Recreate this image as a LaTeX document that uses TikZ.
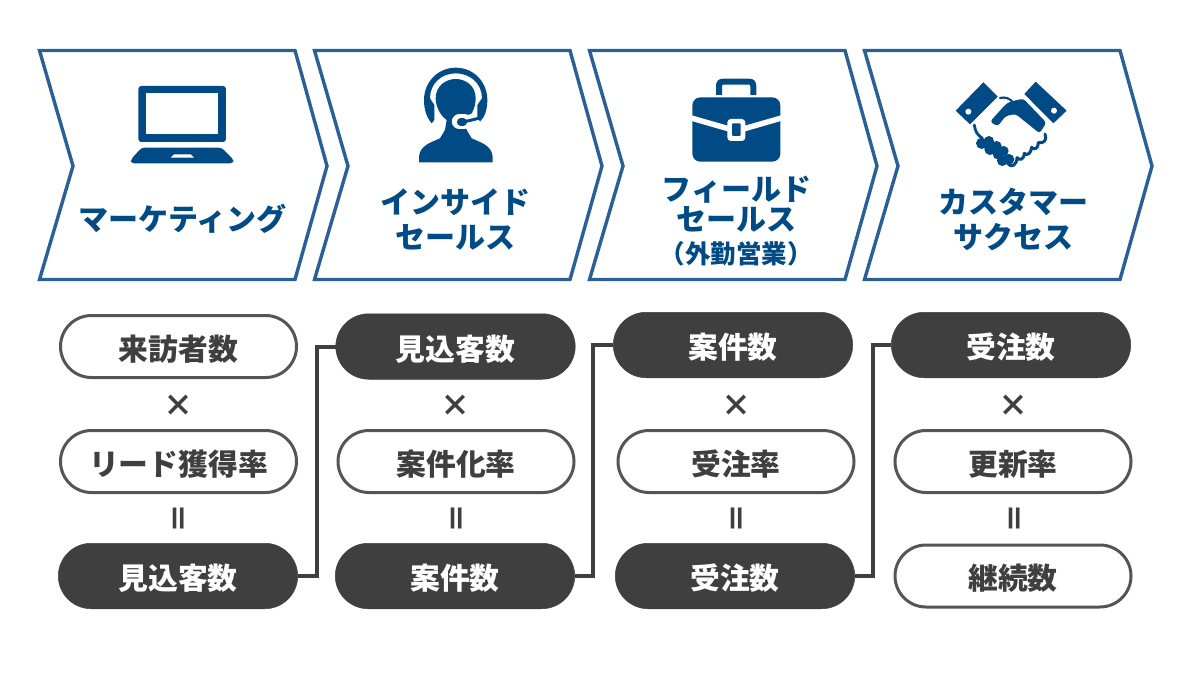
\documentclass[tikz,border=0pt]{standalone}
\usepackage{fontspec}
\setmainfont{Noto Sans CJK JP}
\definecolor{chevline}{HTML}{2A6096}
\definecolor{navy}{HTML}{004B85}
\definecolor{ink}{HTML}{3F3F3F}
\definecolor{rim}{HTML}{555555}
\tikzset{
  chevron/.style={draw=chevline,line width=3.4pt,line join=miter,fill=white},
  headtext/.style={text=navy,font=\bfseries\fontsize{30}{35}\selectfont,align=center,inner sep=0pt},
  whitepill/.style={rounded corners=31pt,draw=rim,line width=3pt,fill=white,text=ink,minimum height=62pt,minimum width=236pt,inner sep=0pt,text height=27.8pt,text depth=0pt,font=\bfseries\fontsize{29.8}{35}\selectfont},
  darkpill/.style={rounded corners=33pt,draw=ink,line width=0.5pt,fill=ink,text=white,minimum height=65.5pt,minimum width=239.5pt,inner sep=0pt,text height=27.8pt,text depth=0pt,font=\bfseries\fontsize{29.8}{35}\selectfont},
  oper/.style={text=ink,inner sep=0pt,font=\bfseries\fontsize{30}{35}\selectfont},
  link/.style={draw=ink,line width=4pt,line join=miter},
  icon/.style={fill=navy,draw=none},
  iconcut/.style={fill=white,draw=none}
}
\begin{document}
\begin{tikzpicture}[x=1pt,y=-1pt]
\useasboundingbox (0,0) rectangle (1200,675);
\fill[white] (0,0) rectangle (1200,675);
% chevrons
\foreach \d in {0,275,550,825}{
  \draw[chevron,xshift=\d pt] (39.5,50.5) -- (295,50.5) -- (327,166) -- (295,279.5) -- (39.5,279.5) -- (73,166) -- cycle;
}
% laptop
\begin{scope}[shift={(30,40)},x=0.3333pt,y=-0.3333pt]
  \fill[icon,rounded corners=3pt] (325,138) rectangle (588,306);
  \fill[iconcut] (348,160) rectangle (565,283);
  \fill[icon,rounded corners=3pt] (335,323) -- (575,323) -- (610,358) -- (610,370) -- (303,370) -- (303,358) -- cycle;
  \fill[iconcut] (432,343) -- (482,343) -- (492,353) -- (422,353) -- cycle;
\end{scope}
% headset
\begin{scope}[shift={(400,55)},x=0.3333pt,y=-0.3333pt]
  \fill[icon] (57,322) -- (57,305) .. controls (60,270) and (95,262) .. (120,250) -- (135,225) -- (140,195)
     .. controls (118,180) and (107,150) .. (107,130) .. controls (107,95) and (135,72) .. (167,72)
     .. controls (200,72) and (227,95) .. (227,130) .. controls (227,150) and (220,180) .. (195,195)
     -- (200,225) -- (215,250) .. controls (240,262) and (275,270) .. (278,305) -- (278,322) -- cycle;
  \fill[icon] (95,205) .. controls (78,185) and (72,160) .. (72,135) .. controls (72,80) and (115,38) .. (167,38)
     .. controls (220,38) and (262,80) .. (262,135) .. controls (262,160) and (256,185) .. (240,200)
     -- (232,185) -- (232,150) -- (246,130) .. controls (246,85) and (210,55) .. (167,55)
     .. controls (125,55) and (90,85) .. (90,130) -- (103,150) -- (103,195) -- cycle;
  \draw[white,line width=15pt,line cap=round] (178,200) -- (193,200);
  \draw[white,line width=8pt] (190,196) -- (226,186);
  \draw[navy,line width=7.5pt,line cap=round] (182,201) -- (190,201);
  \draw[navy,line width=3pt] (190,201) -- (240,189);
\end{scope}
% briefcase
\begin{scope}[shift={(670,65)},x=0.3333pt,y=-0.3333pt]
  \draw[navy,line width=6pt] (147,90) -- (147,65) .. controls (147,55) and (150,50) .. (160,50) -- (237,50) .. controls (247,50) and (250,55) .. (250,65) -- (250,90);
  \fill[icon,rounded corners=8pt] (67,97) rectangle (331,290);
  \draw[white,line width=5.5pt] (60,158) -- (199,198) -- (338,158);
  \fill[iconcut,rounded corners=3.5pt] (172,162) rectangle (226,228);
  \fill[icon,rounded corners=1pt] (186,175) rectangle (212,213);
\end{scope}
% handshake
\begin{scope}[shift={(945,70)},x=0.3333pt,y=-0.3333pt]
  \fill[icon] (115,37) -- (158,80) -- (75,163) -- (32,122) -- cycle;
  \fill[icon] (272,35) -- (365,122) -- (325,160) -- (238,72) -- cycle;
  \fill[iconcut] (70,125) circle (9);
  \fill[iconcut] (327,122) circle (9);
  \fill[icon,rounded corners=3pt] (195,95) -- (235,86) -- (304,158) -- (284,190) -- (212,132) -- (182,138) -- (158,169) -- (135,155) -- (182,103) -- cycle;
  \draw[navy,line width=2.2pt,line cap=round] (165,84) .. controls (180,80) and (195,85) .. (205,98);
  \draw[navy,line width=2.8pt,line cap=round] (88,165) .. controls (90,185) and (98,195) .. (112,205);
  \fill[icon] (110,220) circle (17) (132,213) circle (15) (135,238) circle (17) (155,228) circle (15) (160,252) circle (17) (176,243) circle (15) (172,272) circle (16) (192,268) circle (16);
  \draw[navy,line width=3pt,line cap=round,line join=round] (300,192) .. controls (308,210) and (295,222) .. (280,218) .. controls (280,235) and (268,242) .. (260,232) .. controls (258,252) and (245,258) .. (238,250) .. controls (236,270) and (225,272) .. (216,263) .. controls (216,285) and (198,296) .. (188,280);
\end{scope}
% header labels
\node[headtext] (h1) at (182.5,219) {マーケティング};
\node[headtext] (h2) at (455.5,219.5) {インサイド\\セールス};
\node[headtext] (h3) at (736.5,204) {フィールド\\[-5pt]セールス};
\node[text=navy,inner sep=0pt,font=\bfseries\fontsize{25.5}{28}\selectfont] (h3b) at (736,254) {（外勤営業）};
\node[headtext] (h4) at (1013,219.5) {カスタマー\\サクセス};
% column 1
\node[whitepill] (a1) at (178.5,346.5) {来訪者数};
\node[oper] (ax) at (178,406) {×};
\node[whitepill] (a2) at (178.5,461.5) {リード獲得率};
\node[oper,rotate=90,yshift=-4pt] (ae) at (178,518) {＝};
\node[darkpill] (a3) at (178,576) {見込客数};
% column 2
\node[darkpill] (b1) at (455.5,346.5) {見込客数};
\node[oper] (bx) at (455,406) {×};
\node[whitepill] (b2) at (456,461.5) {案件化率};
\node[oper,rotate=90,yshift=-4pt] (be) at (456,518) {＝};
\node[darkpill] (b3) at (455,576) {案件数};
% column 3
\node[darkpill] (c1) at (733,345) {案件数};
\node[oper] (cx) at (736,406) {×};
\node[whitepill] (c2) at (736,461.5) {受注率};
\node[oper,rotate=90,yshift=-4pt] (ce) at (736,518) {＝};
\node[darkpill] (c3) at (735,576) {受注数};
% column 4
\node[darkpill] (d1) at (1011,345) {受注数};
\node[oper] (dx) at (1013,406) {×};
\node[whitepill] (d2) at (1013,461.5) {更新率};
\node[oper,rotate=90,yshift=-4pt] (de) at (1014,518) {＝};
\node[whitepill] (d3) at (1013,576) {継続数};
% links
\draw[link] (a3.east) -- ++(19,0) |- (b1.west);
\draw[link] (b3.east) -- ++(18,0) |- (c1.west);
\draw[link] (c3.east) -- ++(18,0) |- (d1.west);
\end{tikzpicture}
\end{document}
